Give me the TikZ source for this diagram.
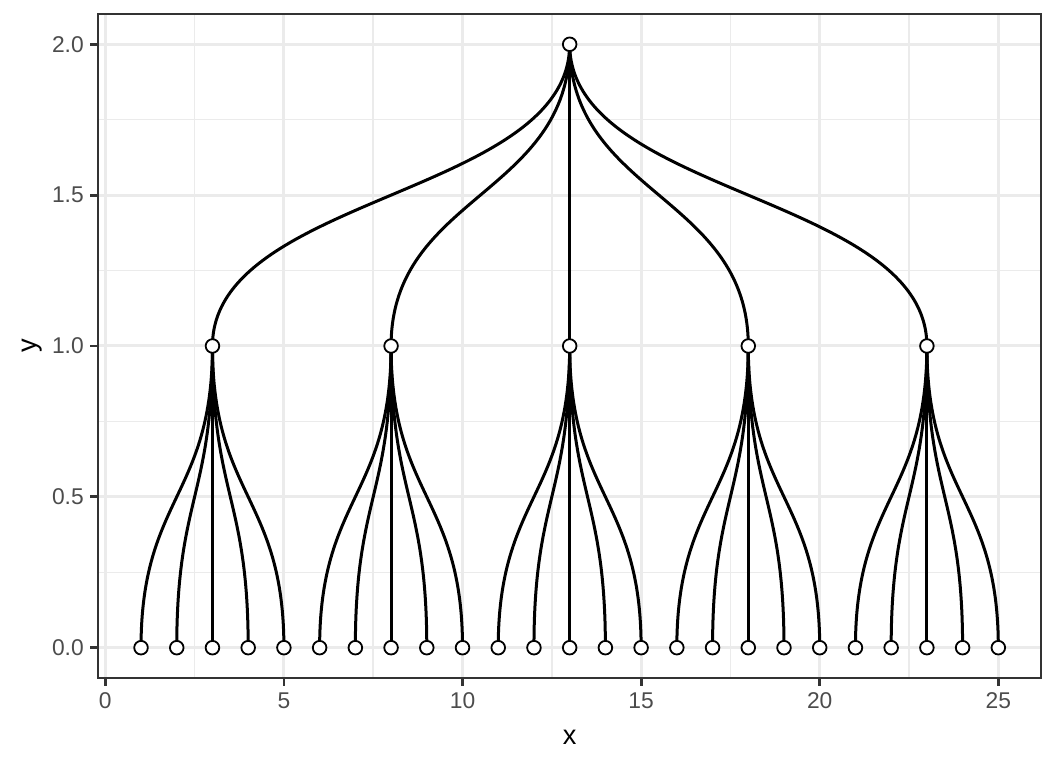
\documentclass[tikz,border=0pt]{standalone}
\usepackage{fontspec}
\setmainfont{Liberation Sans}
\usetikzlibrary{calc}
\definecolor{gridgrey}{gray}{0.92}
\definecolor{framegrey}{gray}{0.2}
\definecolor{labelgrey}{gray}{0.3}
\pgfdeclarelayer{grid}
\pgfdeclarelayer{edges}
\pgfsetlayers{grid,edges,main}

\begin{document}
\begin{tikzpicture}[x=17.86pt, y=150.85pt,
	vertex/.style={circle, draw, fill=white, line width=0.9pt, minimum size=6.8pt, inner sep=0pt},
	edge/.style={line width=1.5pt},
	majorgrid/.style={gridgrey, line width=1.5pt},
	minorgrid/.style={gridgrey, line width=0.75pt},
	axistick/.style={framegrey, line width=1.4pt},
	ticklabel/.style={inner sep=0pt, text=labelgrey, font=\fontsize{11.4}{13}\selectfont},
	axistitle/.style={inner sep=0pt, font=\fontsize{13.6}{16}\selectfont}]
	\useasboundingbox (-2.948,-0.3987) rectangle (26.615,2.1468);
	
	% Panel grid
	\begin{pgfonlayer}{grid}
		\foreach \gx in {2.5,7.5,...,22.5}
			\draw[minorgrid] (\gx,-0.1) -- (\gx,2.1);
		\foreach \gy in {0.25,0.75,...,1.75}
			\draw[minorgrid] (-0.2,\gy) -- (26.2,\gy);
		\foreach \gx in {0,5,...,25}
			\draw[majorgrid] (\gx,-0.1) -- (\gx,2.1);
		\foreach \gy in {0,0.5,...,2}
			\draw[majorgrid] (-0.2,\gy) -- (26.2,\gy);
	\end{pgfonlayer}
	
	% Tree vertices
	\node[vertex] (root) at (13,2) {};
	\foreach \k in {1,...,5}
		\node[vertex] (mid\k) at ({5*\k-2},1) {};
	\foreach \k in {1,...,25}
		\node[vertex] (leaf\k) at (\k,0) {};
	
	% Diagonal edges
	\begin{pgfonlayer}{edges}
		\foreach \k in {1,...,5}
			\draw[edge] (root.center) .. controls ($(root)!0.5!(root |- mid\k)$) and ($(mid\k)!0.5!(mid\k |- root)$) .. (mid\k.center);
		\foreach \k in {1,...,25} {
			\pgfmathtruncatemacro\p{int((\k-1)/5)+1}
			\draw[edge] (mid\p.center) .. controls ($(mid\p)!0.5!(mid\p |- leaf\k)$) and ($(leaf\k)!0.5!(leaf\k |- mid\p)$) .. (leaf\k.center);
		}
	\end{pgfonlayer}
	
	% Panel frame, ticks and labels
	\draw[framegrey, line width=0.9pt] (-0.2,-0.1) rectangle (26.2,2.1);
	\foreach \gx [count=\k] in {0,5,...,25} {
		\draw[axistick] (\gx,-0.1) -- ++(0,-4pt) coordinate (xt\k);
		\node[ticklabel, anchor=north, yshift=-3.4pt] (xlab\k) at (xt\k) {\gx};
	}
	\foreach \gy/\lab [count=\k] in {0/0.0,0.5/0.5,1/1.0,1.5/1.5,2/2.0} {
		\draw[axistick] (-0.2,\gy) -- ++(-4pt,0) coordinate (yt\k);
		\node[ticklabel, anchor=east, xshift=-3pt] (ylab\k) at (yt\k) {\lab};
	}
	\node[axistitle, anchor=base] (xtitle) at (13,-0.3225) {x};
	\node[axistitle, rotate=90] (ytitle) at (-2.052,1) {y};
\end{tikzpicture}
\end{document}
